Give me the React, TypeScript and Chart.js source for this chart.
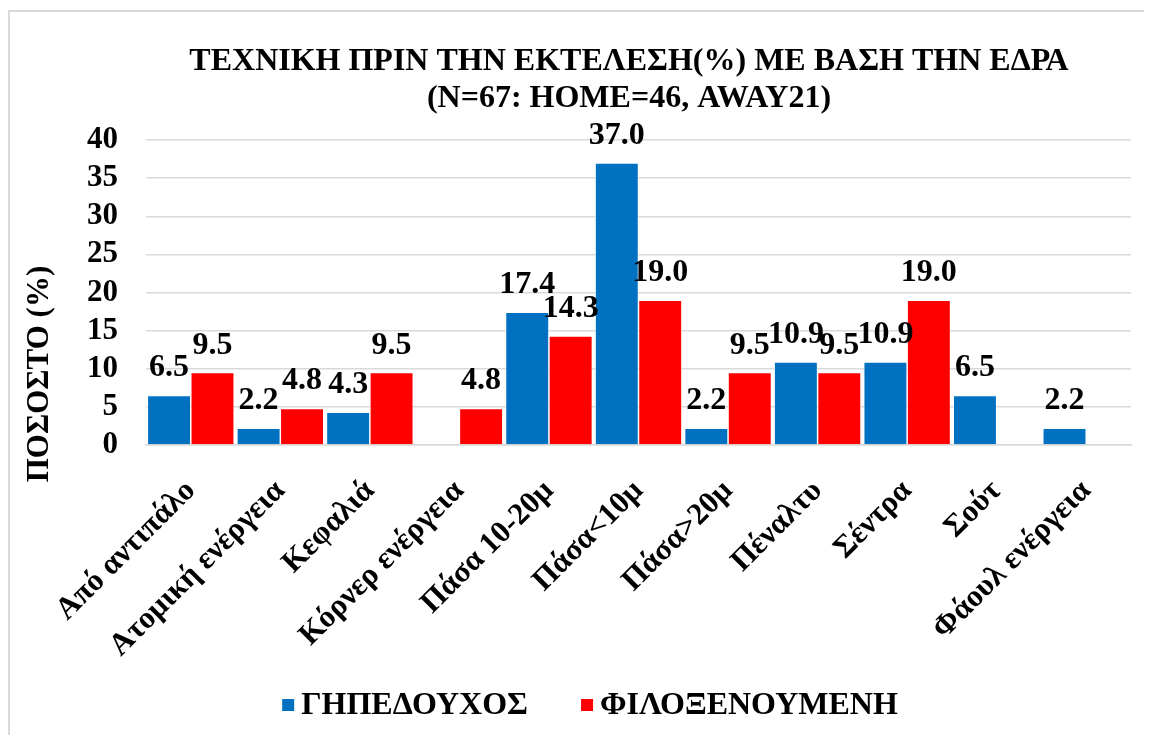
import { useEffect, useRef } from 'react';
import { Chart, registerables } from 'chart.js';

Chart.register(...registerables);

const categories = [
  'Από αντιπάλο',
  'Ατομική ενέργεια',
  'Κεφαλιά',
  'Κόρνερ ενέργεια',
  'Πάσα 10-20μ',
  'Πάσα<10μ',
  'Πάσα>20μ',
  'Πέναλτυ',
  'Σέντρα',
  'Σούτ',
  'Φάουλ ενέργεια',
];
const homeValues: (number | null)[] = [6.5, 2.2, 4.3, null, 17.4, 37.0, 2.2, 10.9, 10.9, 6.5, 2.2];
const awayValues: (number | null)[] = [9.5, 4.8, 9.5, 4.8, 14.3, 19.0, 9.5, 9.5, 19.0, null, null];
const seriesNames = ['ΓΗΠΕΔΟΥΧΟΣ', 'ΦΙΛΟΞΕΝΟΥΜΕΝΗ'];
const seriesColors = ['#0070C0', '#FF0000'];
const titleLines = ['ΤΕΧΝΙΚΗ ΠΡΙΝ ΤΗΝ ΕΚΤΕΛΕΣΗ(%) ΜΕ ΒΑΣΗ ΤΗΝ ΕΔΡΑ', '(N=67: HOME=46, AWAY21)'];
const yAxisTitle = 'ΠΟΣΟΣΤΟ (%)';
const yTickValues = [0, 5, 10, 15, 20, 25, 30, 35, 40];

const FONT = "'Liberation Serif', 'Times New Roman', serif";
const W = 1142;
const H = 731;

const textPlugin = {
  id: 'customText',
  afterDatasetsDraw(chart: any) {
    const ctx = chart.ctx as CanvasRenderingContext2D;
    ctx.save();
    ctx.fillStyle = '#000';
    ctx.font = `bold 32px ${FONT}`;
    ctx.textAlign = 'center';
    ctx.textBaseline = 'alphabetic';
    chart.data.datasets.forEach((ds: any, di: number) => {
      const meta = chart.getDatasetMeta(di);
      meta.data.forEach((el: any, i: number) => {
        const v = ds.data[i];
        if (v === null || v === undefined) return;
        ctx.fillText(Number(v).toFixed(1), el.x, el.y - 19);
      });
    });
    // title
    ctx.fillText(titleLines[0], 619, 58);
    ctx.fillText(titleLines[1], 619, 95);
    // legend
    ctx.font = `bold 32px ${FONT}`;
    ctx.textBaseline = 'middle';
    ctx.textAlign = 'left';
    const box = 12;
    const gapBoxText = 7;
    const gapItems = 53;
    const widths = seriesNames.map((n) => ctx.measureText(n).width);
    const total = widths.reduce((a, w) => a + box + gapBoxText + w, 0) + gapItems * (seriesNames.length - 1);
    let lx = 580 - total / 2;
    const ly = 693;
    seriesNames.forEach((n, i) => {
      ctx.fillStyle = seriesColors[i];
      ctx.fillRect(lx, ly - box / 2, box, box);
      ctx.fillStyle = '#000';
      ctx.fillText(n, lx + box + gapBoxText, ly + 1);
      lx += box + gapBoxText + widths[i] + gapItems;
    });
    // y axis title
    ctx.textAlign = 'center';
    ctx.textBaseline = 'alphabetic';
    ctx.font = `bold 31px ${FONT}`;
    ctx.translate(38, 362);
    ctx.rotate(-Math.PI / 2);
    ctx.fillText(yAxisTitle, 0, 0);
    ctx.restore();
  },
};

export default function App() {
  const ref = useRef<HTMLCanvasElement | null>(null);
  useEffect(() => {
    if (!ref.current) return;
    const chart = new Chart(ref.current, {
      type: 'bar',
      data: {
        labels: categories,
        datasets: [
          {
            label: seriesNames[0],
            data: homeValues,
            backgroundColor: seriesColors[0],
            borderColor: '#ffffff',
            borderWidth: 0.75,
            borderSkipped: 'bottom',
            categoryPercentage: 0.97,
            barPercentage: 1,
          },
          {
            label: seriesNames[1],
            data: awayValues,
            backgroundColor: seriesColors[1],
            borderColor: '#ffffff',
            borderWidth: 0.75,
            borderSkipped: 'bottom',
            categoryPercentage: 0.97,
            barPercentage: 1,
          },
        ],
      },
      options: {
        responsive: false,
        animation: false,
        layout: { padding: { top: 128, left: 29, right: 21, bottom: 0 } },
        plugins: {
          title: { display: false },
          tooltip: { enabled: false },
          legend: { display: false },
        },
        scales: {
          x: {
            grid: { display: false },
            border: { display: true, color: '#d9d9d9', width: 1.5 },
            ticks: {
              color: '#000',
              font: { family: FONT, size: 31, weight: 'bold' },
              maxRotation: 45,
              minRotation: 45,
              autoSkip: false,
              padding: 20,
            },
            afterFit: (scale: any) => {
              scale.height = H - 433;
            },
          },
          y: {
            min: yTickValues[0],
            max: yTickValues[yTickValues.length - 1],
            afterBuildTicks: (scale: any) => {
              scale.ticks = yTickValues.map((v) => ({ value: v }));
            },
            ticks: {
              autoSkip: false,
              color: '#000',
              padding: 28,
              font: { family: FONT, size: 31, weight: 'bold' },
            },
            grid: { color: '#d9d9d9', lineWidth: 1.5, drawTicks: false },
            border: { display: false },
            afterFit: (scale: any) => {
              scale.width = 107;
            },
          },
        },
      },
      plugins: [textPlugin],
    });
    return () => chart.destroy();
  }, []);

  return (
    <div style={{ width: 1144, height: 727, overflow: 'hidden', paddingTop: 2, boxSizing: 'border-box' }}>
      <div style={{ width: 1300, height: 900, border: '2px solid #d9d9d9', boxSizing: 'border-box', background: '#fff' }}>
        <canvas ref={ref} width={W} height={H} style={{ display: 'block', width: W, height: H }} />
      </div>
    </div>
  );
}
